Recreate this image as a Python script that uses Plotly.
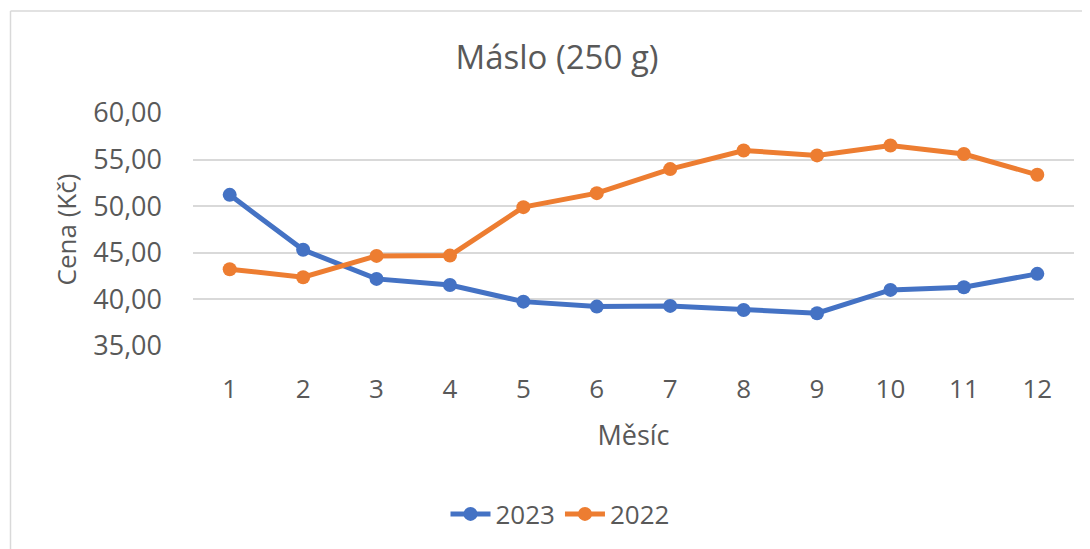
import plotly.graph_objects as go

months = [1, 2, 3, 4, 5, 6, 7, 8, 9, 10, 11, 12]
month_labels = ["1", "2", "3", "4", "5", "6", "7", "8", "9", "10", "11", "12"]
price_2023 = [51.22, 45.32, 42.20, 41.55, 39.76, 39.23, 39.30, 38.87, 38.52, 41.02, 41.30, 42.74]
price_2022 = [43.24, 42.38, 44.67, 44.70, 49.90, 51.40, 53.98, 55.98, 55.45, 56.52, 55.60, 53.37]
y_ticks = [35, 40, 45, 50, 55, 60]

FONT = "Open Sans"
GREY = "#595959"

# page body has an 8px default margin; build the figure to fit the visible window
W, H = 1082, 541
L, R, T, B = 185, 16, 105, 203
PW, PH = W - L - R, H - T - B

fig = go.Figure()
fig.add_trace(go.Scatter(x=months, y=price_2023, name="2023", mode="lines+markers",
                         line=dict(color="#4472C4", width=5),
                         marker=dict(color="#4472C4", size=14)))
fig.add_trace(go.Scatter(x=months, y=price_2022, name="2022", mode="lines+markers",
                         line=dict(color="#ED7D31", width=5),
                         marker=dict(color="#ED7D31", size=14)))

bx = (2.5 - L) / PW
by = 1 + (T - 3) / PH
fig.update_layout(
    width=W, height=H,
    margin=dict(l=L, r=R, t=T, b=B),
    paper_bgcolor="white", plot_bgcolor="white",
    separators=", ",
    font=dict(family=FONT, color=GREY, size=26),
    title=dict(text="Máslo (250 g)", x=549 / W, xref="container", xanchor="center",
               y=1 - 49 / H, yref="container", yanchor="middle",
               font=dict(family=FONT, size=33, color=GREY)),
    showlegend=True,
    legend=dict(orientation="h", x=552 / W, xanchor="center", xref="container",
                y=1 - 506 / H, yref="container", yanchor="middle",
                font=dict(size=26, color=GREY), itemwidth=40),
    xaxis=dict(range=[0.5, 12.5], tickmode="array", tickvals=months, ticktext=month_labels,
               showgrid=False, zeroline=False, showline=False, ticks="",
               ticklabelstandoff=25, tickfont=dict(size=26),
               title=dict(text="Měsíc", standoff=21, font=dict(size=27, color=GREY))),
    yaxis=dict(range=[35, 60], tickmode="array", tickvals=y_ticks, tickformat=".2f",
               showgrid=True, gridcolor="#D9D9D9", gridwidth=1.5, zeroline=False,
               showline=False, ticks="", ticklabelstandoff=30, tickfont=dict(size=27),
               title=dict(text="Cena (Kč)", standoff=9, font=dict(size=26, color=GREY))),
    shapes=[
        dict(type="line", xref="paper", yref="paper",
             x0=bx, x1=(W + 10 - L) / PW, y0=by, y1=by,
             line=dict(color="#D9D9D9", width=1.5)),
        dict(type="line", xref="paper", yref="paper",
             x0=bx, x1=bx, y0=by, y1=-(B + 10) / PH,
             line=dict(color="#D9D9D9", width=1.5)),
    ],
)

fig.write_html("out.html")
